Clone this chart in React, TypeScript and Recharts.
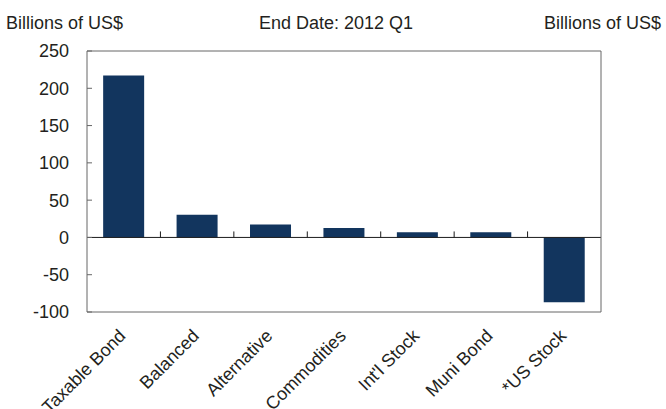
import React from 'react';
import {
  BarChart,
  Bar,
  XAxis,
  YAxis,
  ReferenceLine
} from 'recharts';

const categories = ['Taxable Bond', 'Balanced', 'Alternative', 'Commodities', "Int'l Stock", 'Muni Bond', '*US Stock'];
const flows = [217, 30.5, 17.5, 12.5, 7, 7, -87];
const yTicks = [-100, -50, 0, 50, 100, 150, 200, 250];

const data = categories.map((name, i) => ({ name, value: flows[i] }));

const FONT = '"Liberation Sans", Arial, sans-serif';
const TEXT = '#231f20';
const FRAME = '#666666';
const BAR = '#12355e';

const leftTick = ({ x, y, payload }: any) => (
  <g>
    <line x1={x + 18} y1={y} x2={x + 23} y2={y} stroke={FRAME} />
    <text x={x} y={y} dy="0.36em" textAnchor="end" fontSize={18} fill={TEXT} fontFamily={FONT}>
      {payload.value}
    </text>
  </g>
);

const rightTick = ({ x, y, payload }: any) => (
  <g>
    <line x1={x - 21} y1={y} x2={x - 16} y2={y} stroke={FRAME} />
    <text x={x} y={y} dy="0.36em" textAnchor="start" fontSize={18} fill={TEXT} fontFamily={FONT}>
      {payload.value}
    </text>
  </g>
);

const categoryTick = ({ x, y, payload }: any) => (
  <text
    x={x + 3}
    y={y + 25}
    textAnchor="end"
    fontSize={18}
    fill={TEXT}
    fontFamily={FONT}
    transform={`rotate(-45 ${x + 3} ${y + 25})`}
  >
    {payload.value}
  </text>
);

// zero line with the small upward ticks between categories
const zeroLine = (props: any) => {
  const { x1, y1, x2, y2 } = props;
  const n = categories.length;
  const step = (x2 - x1) / n;
  return (
    <g>
      <line x1={x1} y1={y1} x2={x2} y2={y2} stroke="#1a1a1a" strokeWidth={1} />
      {categories.slice(1).map((c, i) => (
        <line key={c} x1={x1 + step * (i + 1)} y1={y1} x2={x1 + step * (i + 1)} y2={y1 - 6} stroke="#1a1a1a" />
      ))}
    </g>
  );
};

const labelStyle: React.CSSProperties = {
  position: 'absolute',
  top: 14,
  fontSize: 18,
  lineHeight: '18px',
  fontFamily: FONT,
  color: TEXT,
  whiteSpace: 'nowrap'
};

export default function App() {
  return (
    <div style={{ position: 'absolute', left: 0, top: 0, width: 666, height: 409, background: '#fff' }}>
      <div style={{ ...labelStyle, left: 6 }}>Billions of US$</div>
      <div style={{ ...labelStyle, left: 236, width: 200, textAlign: 'center' }}>End Date: 2012 Q1</div>
      <div style={{ ...labelStyle, right: 5 }}>Billions of US$</div>
      <BarChart
        width={666}
        height={409}
        data={data}
        margin={{ top: 51, right: 0, bottom: 7, left: 0 }}
        barCategoryGap="22%"
      >
        <XAxis
          dataKey="name"
          height={90}
          tickSize={0}
          tickMargin={0}
          axisLine={{ stroke: FRAME }}
          tickLine={false}
          tick={categoryTick}
          interval={0}
        />
        <YAxis
          yAxisId="left"
          orientation="left"
          width={87}
          domain={[-100, 250]}
          ticks={yTicks}
          tickSize={0}
          tickMargin={18}
          axisLine={{ stroke: FRAME }}
          tickLine={false}
          tick={leftTick}
        />
        <YAxis
          yAxisId="right"
          orientation="right"
          width={65}
          domain={[-100, 250]}
          ticks={yTicks}
          tickSize={0}
          tickMargin={16}
          axisLine={{ stroke: FRAME }}
          tickLine={false}
          tick={rightTick}
        />
        <ReferenceLine yAxisId="left" y={250} stroke={FRAME} />
        <Bar yAxisId="left" dataKey="value" fill={BAR} isAnimationActive={false} />
        <ReferenceLine yAxisId="left" y={0} shape={zeroLine} />
      </BarChart>
    </div>
  );
}
